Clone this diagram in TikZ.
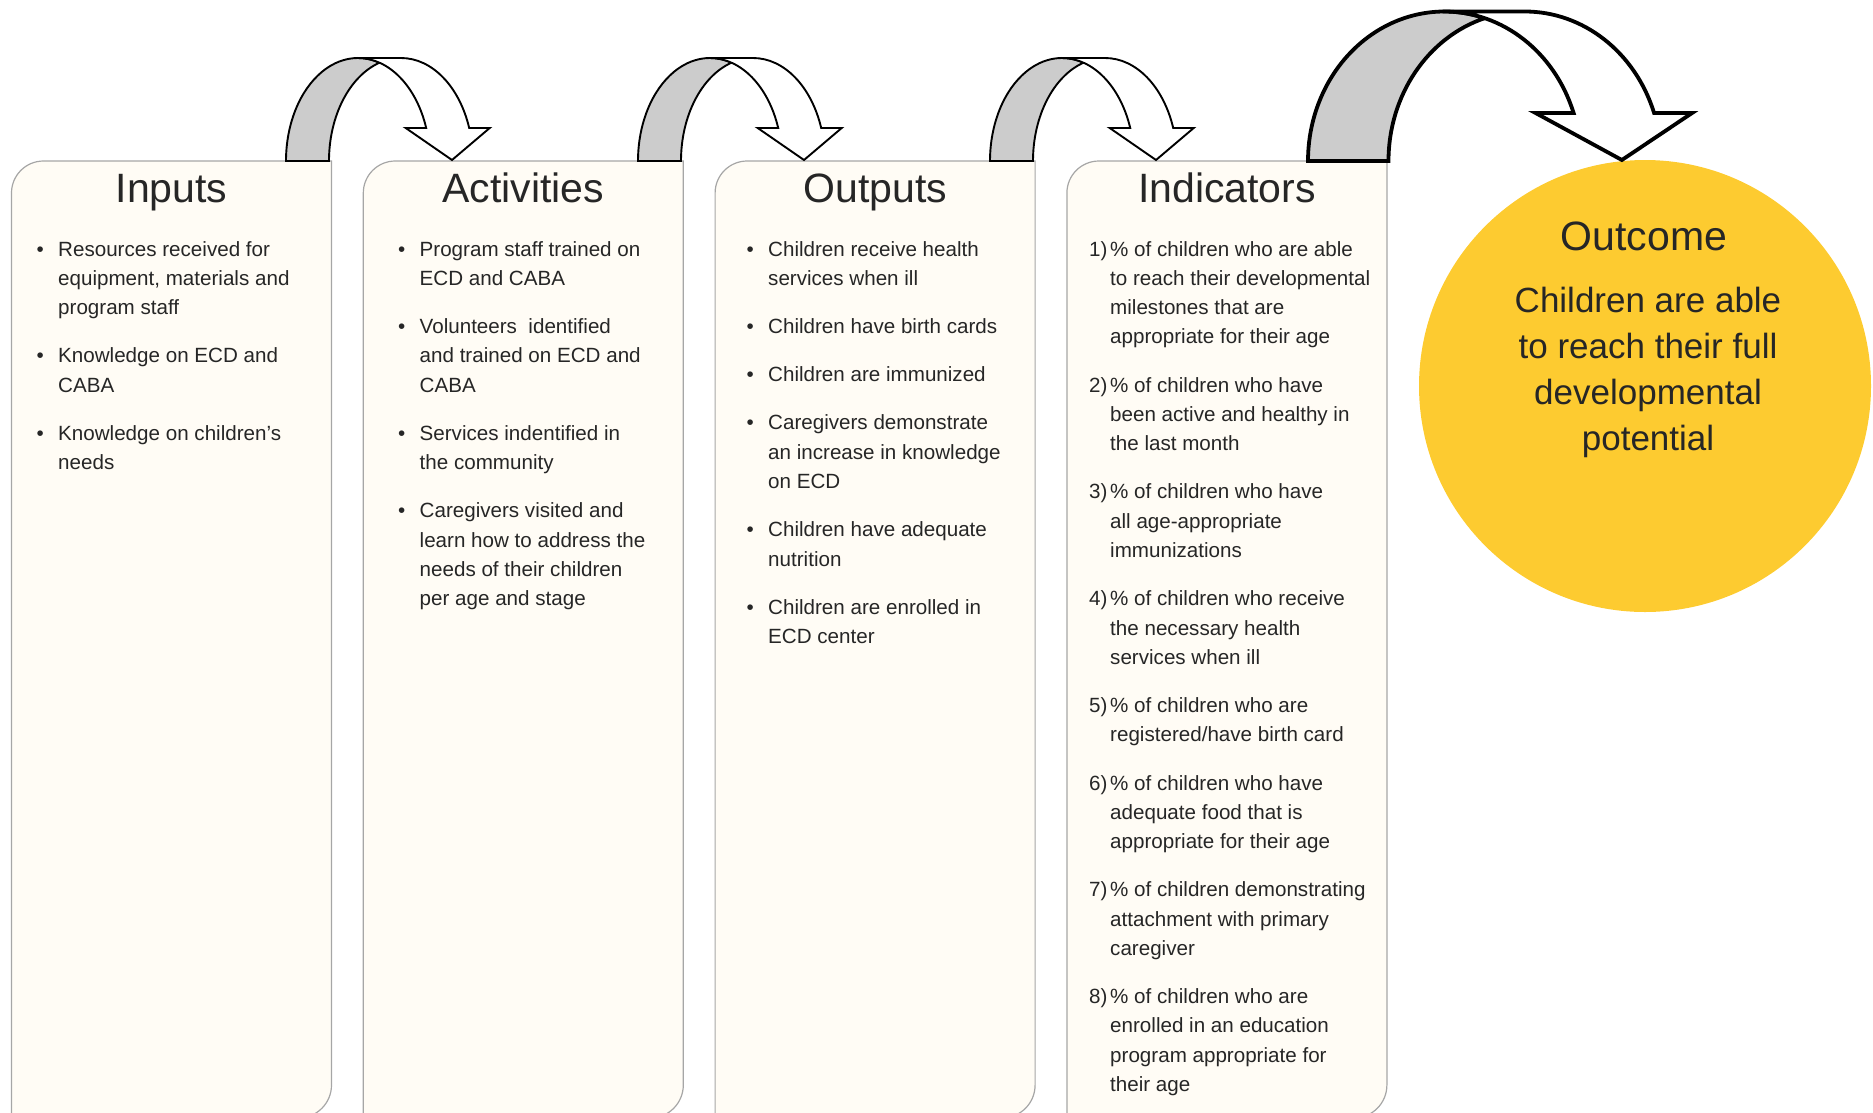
\documentclass[tikz,border=0pt]{standalone}
\usepackage{fontspec}
\setmainfont{Liberation Sans}
\usepackage{xcolor}
\usepackage{tikz}
\usetikzlibrary{positioning}
\usetikzlibrary{calc}
\definecolor{boxcream}{HTML}{FFFCF5}
\definecolor{boxline}{HTML}{A6A6A6}
\definecolor{bandgray}{HTML}{CCCCCC}
\definecolor{outcomeyellow}{HTML}{FDCB30}
\definecolor{textdark}{HTML}{262626}

% #1 left x, #2 shaft width, #3 x radius, #4 y radius, #5 head base height, #6 head overhang, #7 line width
\newcommand\bentarrow[7]{%
    \pgfmathsetmacro\bxc{#1+#3}%
    \pgfmathsetmacro\bmeet{acos(#2/2/#3)}%
    \pgfmathsetmacro\bfoot{asin(#5/#4)}%
    \pgfmathsetmacro\binner{\bxc+#3*cos(\bfoot)}%
    \pgfmathsetmacro\btip{\binner+0.6*#2}%
    \draw[line width=#7, fill=bandgray] (#1,-161)
        arc[start angle=180, end angle=\bmeet, x radius=#3pt, y radius=#4pt]
        arc[start angle=180-\bmeet, end angle=180, x radius=#3pt, y radius=#4pt] -- cycle;
    \draw[line width=#7, fill=white] (\bxc,-161+#4) -- ++(#2,0)
        arc[start angle=90, end angle=\bfoot, x radius=#3pt, y radius=#4pt]
        -- ++(#6,0) -- (\btip,-160) -- (\binner-#6,-161+#5) -- (\binner,-161+#5)
        arc[start angle=\bfoot, end angle=90, x radius=#3pt, y radius=#4pt] -- cycle;
}

\tikzset{
    colbox/.style={draw=boxline, fill=boxcream, line width=1.2pt},
    itemlist/.style={anchor=base west, inner sep=0pt, text=textdark,
        font=\fontsize{20.6}{29.3}\selectfont}
}

\begin{document}
\begin{tikzpicture}[x=1pt, y=1pt]
        \useasboundingbox (0,0) rectangle (1873,-1112);
        \foreach \bx in {11.5, 363.3, 715.1, 1066.9} {
            \draw[colbox] (\bx,-1118) -- (\bx,-193) arc[start angle=180, end angle=90, radius=32pt]
                -- (\bx+320,-161) -- (\bx+320,-1085) arc[start angle=0, end angle=-90, radius=33pt] -- cycle;
        }
        \node[circle, fill=outcomeyellow, minimum size=452pt, inner sep=0pt] (outcome-disc) at (1645,-386) {};

        \bentarrow{286}{43}{72}{103}{33}{20.5}{1.9pt}
        \bentarrow{638}{43}{72}{103}{33}{20.5}{1.9pt}
        \bentarrow{990}{43}{72}{103}{33}{20.5}{1.9pt}
        \bentarrow{1308}{80.5}{136.4}{149.5}{48}{38}{3.8pt}

        \begin{scope}[every node/.style={anchor=base, inner sep=0pt, text=textdark,
            font=\fontsize{41}{41}\selectfont}]
            \node (inputs) at (171.5,-202) {Inputs};
            \node (activities) at (523.3,-202) {Activities};
            \node (outputs) at (875.1,-202) {Outputs};
            \node (indicators) at (1226.9,-202) {Indicators};
            \node (outcome) at (1644,-250) {Outcome};
        \end{scope}

        \node[itemlist] (inputs-list) at (36.5,-256) {\begin{tabular}[t]{@{}p{21.5pt}@{}l@{}}
            \textbullet & Resources received for\\
            & equipment, materials and\\
            & program staff\\[18.9pt]
            \textbullet & Knowledge on ECD and\\
            & CABA\\[18.9pt]
            \textbullet & Knowledge on children’s\\
            & needs
        \end{tabular}};
        \node[itemlist] (activities-list) at (398,-256) {\begin{tabular}[t]{@{}p{21.5pt}@{}l@{}}
            \textbullet & Program staff trained on\\
            & ECD and CABA\\[18.9pt]
            \textbullet & Volunteers~ identified\\
            & and trained on ECD and\\
            & CABA\\[18.9pt]
            \textbullet & Services indentified in\\
            & the community\\[18.9pt]
            \textbullet & Caregivers visited and\\
            & learn how to address the\\
            & needs of their children\\
            & per age and stage
        \end{tabular}};
        \node[itemlist] (outputs-list) at (746.5,-256) {\begin{tabular}[t]{@{}p{21.5pt}@{}l@{}}
            \textbullet & Children receive health\\
            & services when ill\\[18.9pt]
            \textbullet & Children have birth cards\\[18.9pt]
            \textbullet & Children are immunized\\[18.9pt]
            \textbullet & Caregivers demonstrate\\
            & an increase in knowledge\\
            & on ECD\\[18.9pt]
            \textbullet & Children have adequate\\
            & nutrition\\[18.9pt]
            \textbullet & Children are enrolled in\\
            & ECD center
        \end{tabular}};
        \node[itemlist] (indicators-list) at (1089,-256) {\begin{tabular}[t]{@{}p{21pt}@{}l@{}}
            1) & \% of children who are able\\
            & to reach their developmental\\
            & milestones that are\\
            & appropriate for their age\\[18.9pt]
            2) & \% of children who have\\
            & been active and healthy in\\
            & the last month\\[18.9pt]
            3) & \% of children who have\\
            & all age-appropriate\\
            & immunizations\\[18.9pt]
            4) & \% of children who receive\\
            & the necessary health\\
            & services when ill\\[18.9pt]
            5) & \% of children who are\\
            & registered/have birth card\\[18.9pt]
            6) & \% of children who have\\
            & adequate food that is\\
            & appropriate for their age\\[18.9pt]
            7) & \% of children demonstrating\\
            & attachment with primary\\
            & caregiver\\[18.9pt]
            8) & \% of children who are\\
            & enrolled in an education\\
            & program appropriate for\\
            & their age
        \end{tabular}};
        \node[anchor=base, inner sep=0pt, text=textdark, font=\fontsize{35}{46}\selectfont]
            (outcome-text) at (1648,-312) {\begin{tabular}[t]{@{}c@{}}
            Children are able\\
            to reach their full\\
            developmental\\
            potential
        \end{tabular}};
\end{tikzpicture}
\end{document}
